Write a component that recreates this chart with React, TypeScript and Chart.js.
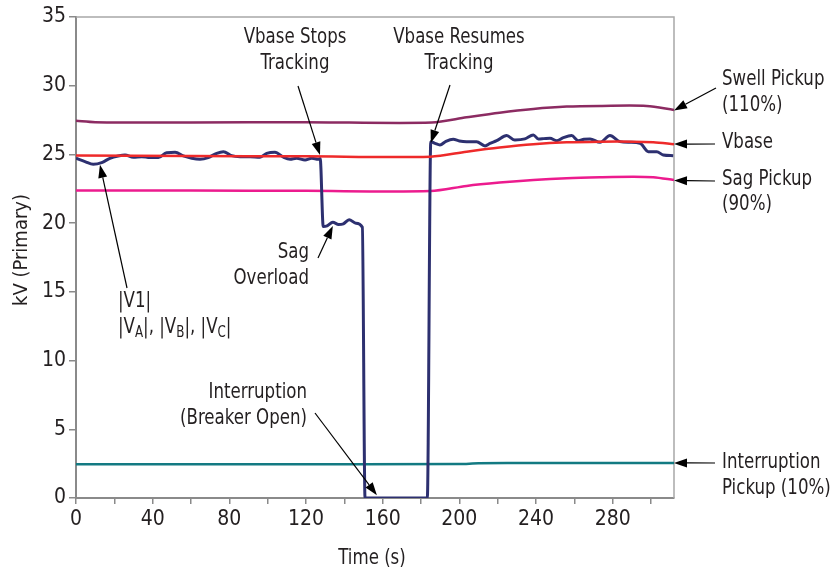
import React, { useEffect, useRef } from "react";
import { Chart, registerables } from "chart.js";

Chart.register(...registerables);

// ---- Data ----
const v1Times = [0, 4.7, 9, 13.4, 17.7, 22, 25.6, 29.9, 34.3, 38.6, 43, 47.3, 51.7, 56, 60.4, 64.7, 69, 73.4, 76.9, 81.2, 85.6, 90.8, 96, 99.5, 103.8, 108.2, 111.7, 115.1, 119.5, 123, 126.4, 127.4, 129, 131, 134, 137, 139.5, 142.5, 146, 149.4, 150.8, 166, 183.3, 185.1, 187.3, 189.9, 193, 196.8, 200, 203.8, 209, 213.4, 216, 219.5, 224.7, 229, 234.2, 238.6, 241.2, 244, 247.3, 250.8, 254, 258.6, 262.1, 265, 268.2, 273.4, 278.6, 283.8, 289, 294.3, 298.6, 303, 306.4, 311.6];
const v1Values = [24.72, 24.48, 24.28, 24.4, 24.72, 24.89, 24.96, 24.8, 24.84, 24.77, 24.77, 25.13, 25.16, 24.89, 24.72, 24.65, 24.77, 25.08, 25.2, 24.91, 24.84, 24.84, 24.8, 25.08, 25.16, 24.8, 24.65, 24.72, 24.6, 24.72, 24.65, 24.7, 19.75, 19.8, 20.06, 19.9, 19.95, 20.25, 20.0, 19.7, 0, 0, 0, 25.93, 25.81, 25.69, 25.95, 26.1, 25.98, 25.93, 25.93, 25.62, 25.8, 26.0, 26.37, 26.05, 26.13, 26.42, 26.13, 26.15, 26.18, 26.0, 26.2, 26.37, 26.0, 26.1, 26.13, 25.88, 26.37, 25.93, 25.88, 25.81, 25.2, 25.2, 24.96, 24.91];

const swellTimes = [0, 10, 60, 120, 185.6, 203.8, 221, 238.6, 256, 273.4, 297.7, 312];
const swellValues = [27.45, 27.35, 27.33, 27.35, 27.32, 27.7, 28.04, 28.31, 28.48, 28.53, 28.53, 28.24];

const vbaseTimes = [0, 60, 120, 185, 203.8, 221, 238.6, 256, 273.4, 290.8, 301.2, 312];
const vbaseValues = [24.93, 24.88, 24.86, 24.84, 25.2, 25.5, 25.74, 25.88, 25.93, 25.93, 25.88, 25.74];

const sagTimes = [0, 60, 120, 185, 203.8, 221, 238.6, 256, 273.4, 290.8, 301.2, 312];
const sagValues = [22.37, 22.37, 22.35, 22.34, 22.71, 22.95, 23.14, 23.27, 23.34, 23.38, 23.34, 23.14];

const intrTimes = [0, 100, 200, 210, 240, 312];
const intrValues = [2.45, 2.45, 2.47, 2.53, 2.55, 2.55];

const xMin = 0;
const xMax = 312;
const xStep = 20;
const xLabelEvery = 40;
const yMin = 0;
const yMax = 35;
const yStep = 5;

const xTitle = "Time (s)";
const yTitle = "kV (Primary)";

// ---- Styling ----
const FONT = "'DejaVu Sans Condensed', 'DejaVu Sans', sans-serif";
const TEXT = "#231f20";
const SX = 0.88; // horizontal compression for annotation text

type Part = { t: string; sub?: boolean };
type Ann = {
  lines: (string | Part[])[];
  x: number;
  ys: number[];
  align: CanvasTextAlign;
  tail: [number, number]; // pixels
  tip: [number, number]; // data coords (time, kV)
};

const annotations: Ann[] = [
  { lines: ["Vbase Stops", "Tracking"], x: 295, ys: [38, 64], align: "center", tail: [298, 86], tip: [127.3, 24.96] },
  { lines: ["Vbase Resumes", "Tracking"], x: 459, ys: [38, 64], align: "center", tail: [450, 85], tip: [185.1, 25.84] },
  { lines: ["Sag", "Overload"], x: 309, ys: [253, 279], align: "right", tail: [318, 258], tip: [134, 19.8] },
  {
    lines: [
      [{ t: "|V1|" }],
      [{ t: "|V" }, { t: "A", sub: true }, { t: "|, |V" }, { t: "B", sub: true }, { t: "|, |V" }, { t: "C", sub: true }, { t: "|" }],
    ],
    x: 118, ys: [302, 328], align: "left", tail: [127, 288], tip: [12.5, 24.25],
  },
  { lines: ["Interruption", "(Breaker Open)"], x: 307, ys: [393, 419], align: "right", tail: [315, 413], tip: [157, 0.2] },
  { lines: ["Swell Pickup", "(110%)"], x: 722, ys: [80, 106], align: "left", tail: [716, 88], tip: [312, 28.2] },
  { lines: ["Vbase"], x: 722, ys: [143], align: "left", tail: [715, 144], tip: [312, 25.75] },
  { lines: ["Sag Pickup", "(90%)"], x: 722, ys: [180, 205], align: "left", tail: [715, 181], tip: [312, 23.1] },
  { lines: ["Interruption", "Pickup (10%)"], x: 722, ys: [463, 489], align: "left", tail: [715, 463], tip: [312, 2.55] },
];

function pts(ts: number[], vs: number[]) {
  return ts.map((t, i) => ({ x: t, y: vs[i] }));
}

function drawArrow(ctx: CanvasRenderingContext2D, x1: number, y1: number, x2: number, y2: number) {
  const ang = Math.atan2(y2 - y1, x2 - x1);
  const len = 13;
  const hw = 4.5;
  const bx = x2 - len * Math.cos(ang);
  const by = y2 - len * Math.sin(ang);
  ctx.strokeStyle = "#000";
  ctx.lineWidth = 1.2;
  ctx.beginPath();
  ctx.moveTo(x1, y1);
  ctx.lineTo(bx, by);
  ctx.stroke();
  ctx.fillStyle = "#000";
  ctx.beginPath();
  ctx.moveTo(x2, y2);
  ctx.lineTo(bx + hw * Math.sin(ang), by - hw * Math.cos(ang));
  ctx.lineTo(bx - hw * Math.sin(ang), by + hw * Math.cos(ang));
  ctx.closePath();
  ctx.fill();
}

const MAIN = `21px ${FONT}`;
const SMALL = `15px ${FONT}`;

function drawLine(ctx: CanvasRenderingContext2D, line: string | Part[], x: number, y: number, align: CanvasTextAlign, sx = SX, font = MAIN) {
  const parts: Part[] = typeof line === "string" ? [{ t: line }] : line;
  let total = 0;
  for (const p of parts) {
    ctx.font = p.sub ? SMALL : font;
    total += ctx.measureText(p.t).width;
  }
  ctx.save();
  ctx.translate(x, y);
  ctx.scale(sx, 1);
  ctx.fillStyle = TEXT;
  ctx.textBaseline = "middle";
  ctx.textAlign = "left";
  let cx = align === "left" ? 0 : align === "right" ? -total : -total / 2;
  for (const p of parts) {
    ctx.font = p.sub ? SMALL : font;
    ctx.fillText(p.t, cx, p.sub ? 5 : 0);
    cx += ctx.measureText(p.t).width;
  }
  ctx.restore();
}

const annotationPlugin = {
  id: "annotationsAndBox",
  beforeDatasetsDraw(chart: any) {
    const { ctx, chartArea } = chart;
    ctx.save();
    ctx.strokeStyle = "#a8a8a8";
    ctx.lineWidth = 1.5;
    ctx.beginPath();
    ctx.moveTo(chartArea.left, chartArea.top);
    ctx.lineTo(chartArea.right, chartArea.top);
    ctx.lineTo(chartArea.right, chartArea.bottom);
    ctx.stroke();
    ctx.restore();
  },
  afterDraw(chart: any) {
    const { ctx, chartArea } = chart;
    const xs = chart.scales.x;
    const ys = chart.scales.y;
    ctx.save();
    // axis titles
    drawLine(ctx, xTitle, (chartArea.left + chartArea.right) / 2 - 3, 559, "center");
    ctx.save();
    ctx.translate(22, 250);
    ctx.rotate(-Math.PI / 2);
    drawLine(ctx, yTitle, 0, 0, "center", 1, `20px ${FONT}`);
    ctx.restore();
    for (const a of annotations) {
      a.lines.forEach((ln, i) => drawLine(ctx, ln, a.x, a.ys[i], a.align));
      const tx = xs.getPixelForValue(a.tip[0]);
      const ty = ys.getPixelForValue(a.tip[1]);
      drawArrow(ctx, a.tail[0], a.tail[1], tx, ty);
    }
    ctx.restore();
  },
};

export default function App() {
  const ref = useRef<HTMLCanvasElement | null>(null);

  useEffect(() => {
    if (!ref.current) return;
    const chart = new Chart(ref.current, {
      type: "line",
      data: {
        datasets: [
          { label: "Vbase", data: pts(vbaseTimes, vbaseValues), borderColor: "#ee2a2a", borderWidth: 2.5, pointRadius: 0, tension: 0.3 },
          { label: "|V1|", data: pts(v1Times, v1Values), borderColor: "#2d3070", borderWidth: 3, pointRadius: 0, cubicInterpolationMode: "monotone" },
          { label: "Swell Pickup", data: pts(swellTimes, swellValues), borderColor: "#8c2b62", borderWidth: 2.5, pointRadius: 0, tension: 0.3 },
          { label: "Sag Pickup", data: pts(sagTimes, sagValues), borderColor: "#ec1b8e", borderWidth: 2.5, pointRadius: 0, tension: 0.3 },
          { label: "Interruption Pickup", data: pts(intrTimes, intrValues), borderColor: "#137a82", borderWidth: 2.5, pointRadius: 0, tension: 0.3 },
        ],
      },
      options: {
        animation: false,
        responsive: true,
        maintainAspectRatio: false,
        layout: { padding: { left: 0, right: 162, top: 17, bottom: 0 } },
        plugins: { legend: { display: false }, tooltip: { enabled: false } },
        scales: {
          x: {
            type: "linear",
            min: xMin,
            max: xMax,
            afterFit: (s: any) => { s.height = 75; },
            border: { color: "#8a8a8a", width: 2 },
            grid: { drawOnChartArea: false, drawTicks: true, tickLength: 6, color: "#8a8a8a", lineWidth: 1.5 },
            ticks: {
              stepSize: xStep,
              includeBounds: false,
              autoSkip: false,
              maxRotation: 0,
              padding: 3,
              color: TEXT,
              font: { family: FONT, size: 21 },
              callback: (v: any) => (Number(v) % xLabelEvery === 0 ? String(v) : ""),
            },
          },
          y: {
            min: yMin,
            max: yMax,
            afterFit: (s: any) => { s.width = 76; },
            border: { color: "#8a8a8a", width: 2 },
            grid: { drawOnChartArea: false, drawTicks: true, tickLength: 7, color: "#8a8a8a", lineWidth: 1.5 },
            ticks: { stepSize: yStep, padding: 3, color: TEXT, font: { family: FONT, size: 21 } },
          },
        },
      },
      plugins: [annotationPlugin],
    } as any);
    return () => chart.destroy();
  }, []);

  return (
    <div style={{ position: "fixed", left: 0, top: 0, width: 836, height: 573, background: "#fff" }}>
      <canvas ref={ref} />
    </div>
  );
}
